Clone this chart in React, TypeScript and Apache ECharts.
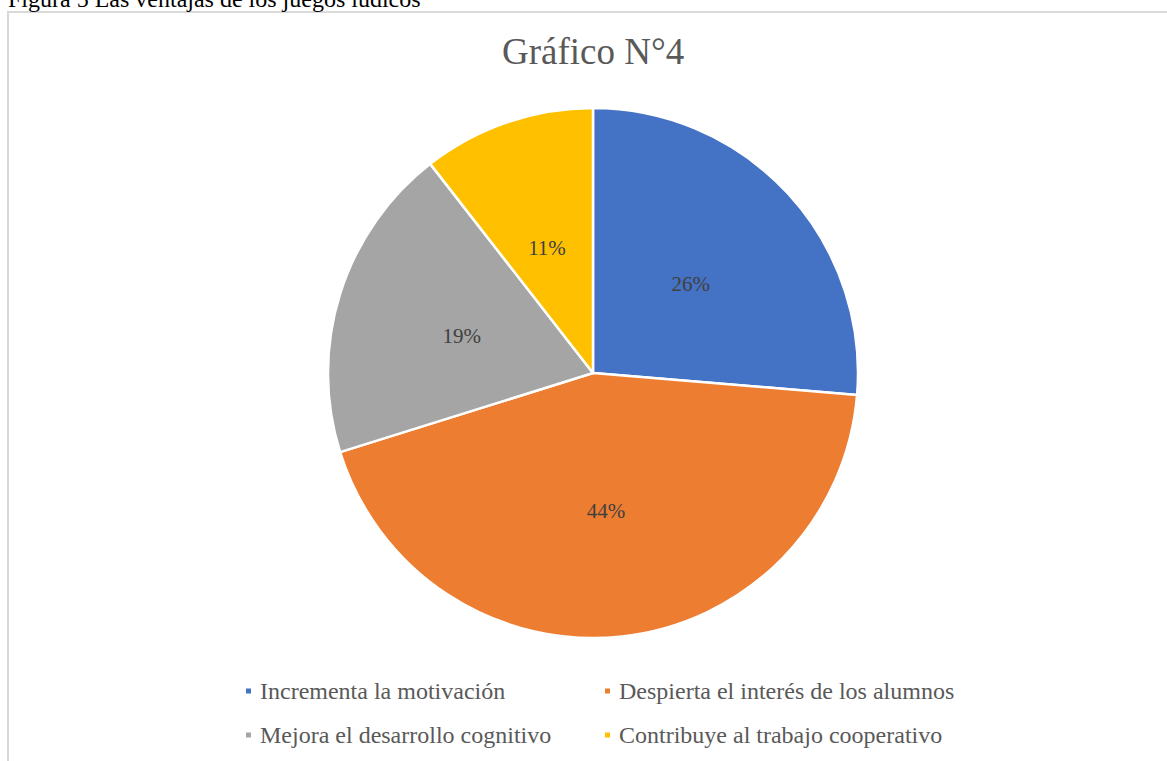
import React, { useEffect, useRef } from "react";
import * as echarts from "echarts";

const categories = [
  "Incrementa la motivación",
  "Despierta el interés de los alumnos",
  "Mejora el desarrollo cognitivo",
  "Contribuye al trabajo cooperativo",
];
// counts (shares of 26%, 44%, 19%, 11%)
const values = [15, 25, 11, 6];
const colors = ["#4472C4", "#ED7D31", "#A5A5A5", "#FFC000"];
const titleText = "Gráfico N°4";
const captionText = "Figura 5 Las ventajas de los juegos lúdicos";

const FONT = "Liberation Serif";

export default function App() {
  const ref = useRef<HTMLDivElement>(null);
  useEffect(() => {
    if (!ref.current) return;
    const chart = echarts.init(ref.current, null, { renderer: "svg" });
    const legendPos = [
      { left: 244, top: 679 },
      { left: 603, top: 679 },
      { left: 244, top: 723 },
      { left: 603, top: 723 },
    ];
    chart.setOption({
      animation: false,
      backgroundColor: "#ffffff",
      color: colors,
      title: {
        text: titleText,
        left: 502,
        top: 33,
        padding: 0,
        textStyle: {
          fontFamily: FONT,
          fontSize: 37,
          fontWeight: "normal",
          color: "#595959",
        },
      },
      legend: legendPos.map((p, i) => ({
        left: p.left,
        top: p.top,
        padding: 0,
        orient: "horizontal",
        data: [categories[i]],
        icon: "rect",
        itemWidth: 7,
        itemHeight: 7,
        selectedMode: false,
        textStyle: {
          fontFamily: FONT,
          fontSize: 24,
          color: "#595959",
          lineHeight: 24,
          padding: [0, 0, 0, 3],
        },
      })),
      graphic: [
        {
          type: "polyline",
          shape: { points: [[8, 761], [8, 12], [1167, 12]] },
          style: { stroke: "#d9d9d9", lineWidth: 2, fill: "none" },
          silent: true,
        },
        {
          type: "text",
          x: 8,
          y: 11,
          style: {
            text: captionText,
            fontFamily: FONT,
            fontSize: 24,
            fill: "#000000",
            verticalAlign: "bottom",
            align: "left",
          },
          silent: true,
        },
      ],
      series: [
        {
          type: "pie",
          center: [593, 373],
          radius: 265,
          startAngle: 90,
          clockwise: true,
          data: categories.map((c, i) => ({ name: c, value: values[i] })),
          itemStyle: { borderColor: "#ffffff", borderWidth: 2.5 },
          label: {
            show: true,
            position: "inner",
            formatter: "{d}%",
            fontFamily: FONT,
            fontSize: 21,
            color: "#404040",
            offset: [-2, 3],
          },
          percentPrecision: 0,
          labelLine: { show: false },
          emphasis: { disabled: true },
        },
      ],
    });
    return () => chart.dispose();
  }, []);
  return (
    <div
      ref={ref}
      style={{ position: "fixed", left: 0, top: 0, width: 1167, height: 761 }}
    />
  );
}
